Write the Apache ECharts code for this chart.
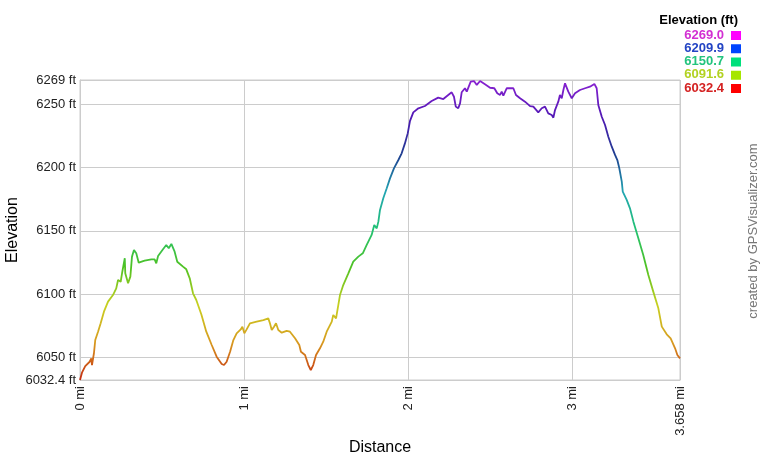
<!DOCTYPE html>
<html>
<head>
<meta charset="utf-8">
<script src="https://cdn.jsdelivr.net/npm/echarts@6/dist/echarts.min.js"></script>
<style>
html,body{margin:0;padding:0;background:#fff;}
#chart{width:760px;height:460px;}
</style>
</head>
<body>
<div id="chart"></div>
<script>
// Distance along the track (mi)
const distances = [0,0.012,0.032,0.059,0.069,0.073,0.085,0.093,0.110,0.126,0.146,0.171,0.201,0.221,0.232,0.248,0.258,0.273,0.276,0.293,0.307,0.317,0.329,0.343,0.358,0.394,0.435,0.455,0.465,0.476,0.506,0.526,0.541,0.557,0.577,0.593,0.628,0.648,0.669,0.689,0.709,0.740,0.770,0.803,0.833,0.864,0.878,0.894,0.915,0.935,0.955,0.980,0.990,1.002,1.016,1.036,1.077,1.118,1.148,1.158,1.169,1.183,1.195,1.209,1.230,1.260,1.280,1.311,1.337,1.347,1.372,1.392,1.407,1.422,1.439,1.463,1.483,1.504,1.535,1.544,1.561,1.575,1.585,1.605,1.636,1.666,1.697,1.724,1.748,1.778,1.794,1.809,1.819,1.829,1.849,1.870,1.890,1.914,1.941,1.961,1.981,1.998,2.012,2.032,2.063,2.103,2.144,2.184,2.215,2.245,2.266,2.280,2.291,2.306,2.317,2.327,2.347,2.358,2.382,2.402,2.419,2.439,2.469,2.500,2.526,2.544,2.561,2.571,2.581,2.602,2.642,2.658,2.683,2.713,2.744,2.764,2.794,2.815,2.835,2.855,2.876,2.886,2.896,2.916,2.926,2.937,2.947,2.957,2.977,2.998,3.018,3.048,3.079,3.109,3.136,3.150,3.160,3.181,3.201,3.221,3.242,3.262,3.276,3.288,3.303,3.309,3.333,3.353,3.374,3.404,3.434,3.465,3.495,3.526,3.547,3.577,3.601,3.628,3.642,3.658];
// Elevation (ft)
const elevations = [6032.4,6038.2,6043.4,6046.8,6049.5,6044.2,6053.5,6063.9,6070.5,6077.1,6086.3,6094.2,6099.4,6104.7,6111.3,6109.9,6117.8,6128.4,6116.5,6108.7,6113.9,6129.7,6135.0,6132.3,6124.9,6126.5,6127.6,6127.6,6124.4,6130.2,6135.5,6138.9,6136.3,6139.7,6133.6,6125.7,6121.8,6119.7,6112.6,6100.8,6095.5,6084.0,6070.5,6060.0,6050.8,6045.0,6044.2,6046.8,6054.7,6063.9,6069.2,6072.3,6074.4,6069.2,6072.3,6077.1,6078.4,6079.7,6081.0,6077.1,6071.8,6074.4,6077.1,6071.8,6069.7,6071.2,6070.5,6065.3,6060.0,6054.7,6052.1,6044.2,6040.3,6044.2,6052.1,6057.4,6062.6,6070.5,6078.4,6083.7,6081.0,6091.6,6099.4,6107.3,6116.5,6125.7,6129.7,6132.3,6138.9,6146.8,6154.6,6152.0,6157.3,6166.5,6175.7,6183.6,6191.4,6199.3,6205.9,6211.2,6219.0,6226.9,6236.8,6243.5,6246.7,6248.5,6252.4,6255.1,6254.0,6257.2,6259.3,6255.8,6248.0,6246.7,6250.6,6259.3,6262.5,6259.8,6267.7,6268.2,6265.1,6268.2,6265.6,6262.9,6262.5,6258.5,6257.2,6259.8,6256.6,6262.5,6262.5,6257.2,6254.6,6251.9,6248.4,6248.0,6243.5,6246.7,6248.0,6242.7,6241.4,6239.3,6245.3,6251.9,6257.2,6254.6,6261.1,6266.4,6259.8,6254.6,6258.5,6261.1,6262.5,6263.7,6265.9,6262.5,6249.3,6240.0,6233.5,6224.3,6216.4,6209.9,6205.9,6199.4,6188.8,6180.9,6174.4,6167.8,6157.3,6144.1,6131.0,6115.2,6102.1,6088.9,6074.5,6068.4,6065.3,6057.4,6052.1,6049.5];

const xTicks = [0, 1, 2, 3, 3.658];
const yTicks = [6032.4, 6050, 6100, 6150, 6200, 6250, 6269];
const elevMin = 6032.4, elevMax = 6269;
const legendValues = [6269.0, 6209.9, 6150.7, 6091.6, 6032.4];
const legendTextColors = ['#d22fd2', '#2344c4', '#22c47e', '#b2d222', '#d42222'];
const legendSwatchColors = ['#ff00ff', '#0044ff', '#00e07c', '#a6e600', '#ff0000'];
const lineColors = ['#c42a10', '#d89a20', '#c8d020', '#50c222', '#22c272', '#22a6b2', '#1e3e90', '#5018b4', '#8a22d2'];

const chart = echarts.init(document.getElementById('chart'), null, {renderer: 'canvas'});
const FONT = 'Liberation Sans, Arial, sans-serif';
const grid = '#cccccc';

const legendGraphics = [{
  type: 'text', right: 22, top: 14,
  style: {text: 'Elevation (ft)', font: 'bold 13px ' + FONT, fill: '#000'}
}];
legendValues.forEach((v, i) => {
  legendGraphics.push({
    type: 'text', x: 724, y: 35 + i * 13.25,
    style: {text: v.toFixed(1), font: 'bold 13px ' + FONT, fill: legendTextColors[i], align: 'right', verticalAlign: 'middle'}
  });
  legendGraphics.push({
    type: 'rect', shape: {x: 731, y: 31 + i * 13.25, width: 10, height: 9},
    style: {fill: legendSwatchColors[i]}
  });
});

chart.setOption({
  animation: false,
  backgroundColor: '#fff',
  grid: {left: 80, top: 80, width: 600, height: 300, show: true, borderColor: grid, borderWidth: 1},
  xAxis: {
    type: 'value', min: 0, max: 3.658,
    axisLine: {show: true, lineStyle: {color: grid}},
    axisTick: {show: false, customValues: xTicks},
    splitLine: {show: true, lineStyle: {color: grid, width: 1}},
    axisLabel: {
      customValues: xTicks, rotate: 90, margin: 6, fontSize: 13, fontFamily: FONT, color: '#222',
      formatter: v => v + ' mi'
    }
  },
  yAxis: {
    type: 'value', min: elevMin, max: elevMax,
    axisLine: {show: true, lineStyle: {color: grid}},
    axisTick: {show: false, customValues: yTicks},
    splitLine: {show: true, lineStyle: {color: grid, width: 1}},
    axisLabel: {
      customValues: yTicks, margin: 4, fontSize: 13, fontFamily: FONT, color: '#222',
      formatter: v => v + ' ft'
    }
  },
  visualMap: {
    type: 'continuous', show: false, dimension: 1, seriesIndex: 0,
    min: elevMin, max: elevMax,
    inRange: {color: lineColors}
  },
  series: [{
    type: 'line',
    data: distances.map((d, i) => [d, elevations[i]]),
    showSymbol: false,
    lineStyle: {width: 1.8},
    smooth: false
  }],
  graphic: [
    {type: 'text', x: 13, y: 230, rotation: Math.PI / 2,
     style: {text: 'Elevation', font: '16px ' + FONT, fill: '#000', align: 'center', verticalAlign: 'middle'}},
    {type: 'text', x: 380, y: 448,
     style: {text: 'Distance', font: '16px ' + FONT, fill: '#000', align: 'center', verticalAlign: 'middle'}},
    {type: 'text', x: 753, y: 231, rotation: Math.PI / 2,
     style: {text: 'created by GPSVisualizer.com', font: '13px ' + FONT, fill: '#777', align: 'center', verticalAlign: 'middle'}}
  ].concat(legendGraphics)
});
</script>
</body>
</html>
